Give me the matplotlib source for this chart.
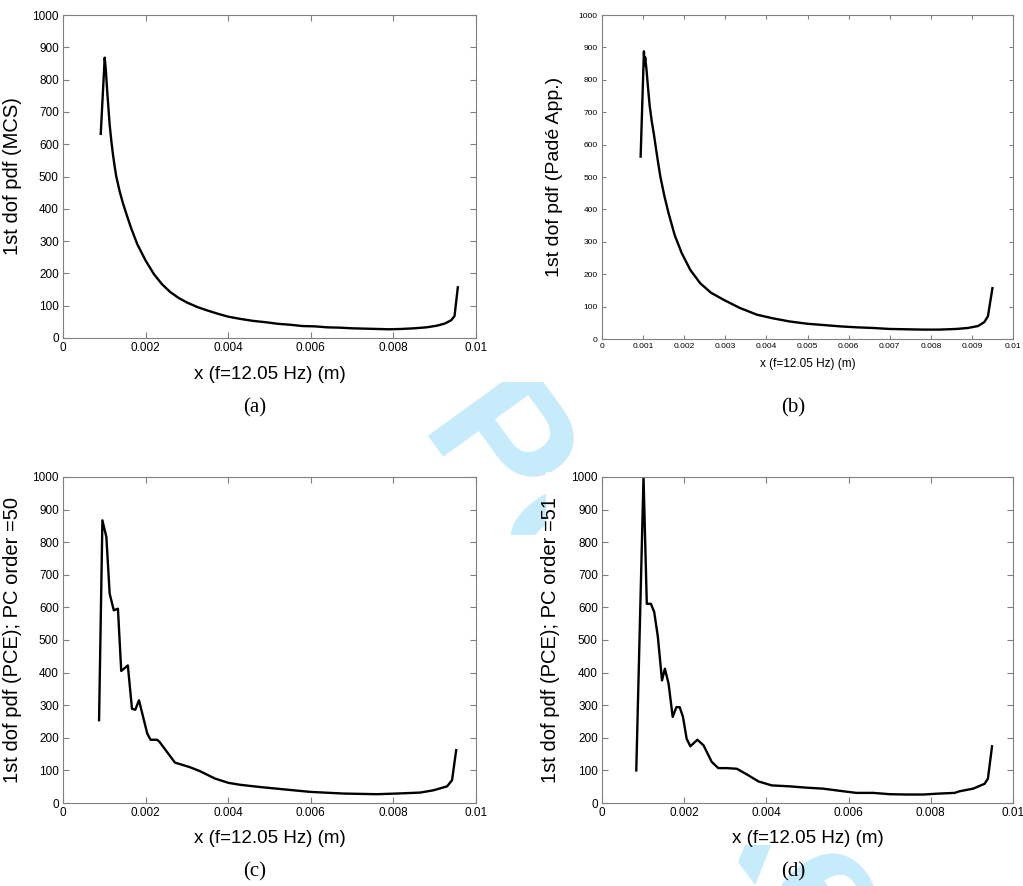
import matplotlib
matplotlib.use("Agg")
import matplotlib.pyplot as plt
from matplotlib.patches import Rectangle

# ---- data: first-dof pdf at f = 12.05 Hz ----
# (a) Monte Carlo simulation
x_mcs = [0.000914, 0.00101, 0.00104, 0.00107, 0.00110, 0.00113, 0.00117, 0.00121,
         0.00125, 0.00129, 0.00137, 0.00145, 0.00154, 0.00165, 0.00180, 0.00200,
         0.00220, 0.00240, 0.00260, 0.00280, 0.00300, 0.00325, 0.00350, 0.00375,
         0.00400, 0.00430, 0.00460, 0.00490, 0.00520, 0.00550, 0.00580, 0.00610,
         0.00640, 0.00670, 0.00700, 0.00730, 0.00760, 0.00790, 0.00820, 0.00850,
         0.00880, 0.00905, 0.00925, 0.00940, 0.00948, 0.00956]
y_mcs = [632, 868, 825, 765, 712, 660, 610, 568, 532, 500, 455, 418, 382, 340,
         290, 240, 198, 166, 142, 124, 110, 96, 85, 75, 66, 59, 53, 49, 44, 41,
         37, 36, 33, 32, 30, 29, 28, 27, 28, 30, 33, 38, 45, 55, 68, 157]

# (b) Pade approximation
x_pade = [0.00094, 0.00102, 0.001035, 0.00105, 0.00108, 0.00112, 0.00116, 0.00121,
          0.00126, 0.00134, 0.00142, 0.00152, 0.00162, 0.00177, 0.00194, 0.00215,
          0.00239, 0.00265, 0.00296, 0.00335, 0.00377, 0.00415, 0.00457, 0.00500,
          0.00540, 0.00579, 0.00620, 0.00660, 0.00700, 0.00740, 0.00781, 0.00820,
          0.00862, 0.00890, 0.00915, 0.00930, 0.00939, 0.00950]
y_pade = [563, 888, 845, 870, 835, 775, 720, 672, 634, 565, 501, 440, 388, 320,
          265, 213, 172, 143, 121, 96, 75, 64, 54, 47, 43, 39, 36, 34, 31, 30, 29,
          29, 31, 34, 40, 52, 70, 157]

# (c) polynomial chaos expansion, order 50
x_pce50 = [0.000873, 0.000954, 0.00105, 0.00113, 0.00123, 0.00133, 0.00141, 0.00157,
           0.00167, 0.00175, 0.00184, 0.00204, 0.00212, 0.00228, 0.00234, 0.00271,
           0.00307, 0.00331, 0.00368, 0.00400, 0.00428, 0.00477, 0.00558, 0.00600,
           0.00679, 0.00760, 0.00808, 0.00865, 0.00897, 0.00930, 0.00942, 0.00952]
y_pce50 = [254, 867, 816, 642, 591, 596, 405, 422, 289, 286, 315, 213, 194, 194,
           187, 124, 110, 98, 75, 62, 56, 49, 39, 34, 29, 27, 29, 32, 39, 51, 70, 162]

# (d) polynomial chaos expansion, order 51
x_pce51 = [0.000834, 0.00101, 0.00109, 0.00119, 0.00127, 0.00136, 0.00146, 0.00153,
           0.00162, 0.00172, 0.00181, 0.00189, 0.00197, 0.00206, 0.00215, 0.00232,
           0.00247, 0.00267, 0.00283, 0.00304, 0.00328, 0.00352, 0.00381, 0.00413,
           0.00457, 0.00498, 0.00538, 0.00587, 0.00619, 0.00660, 0.00700, 0.00741,
           0.00781, 0.00822, 0.00858, 0.00870, 0.00903, 0.00931, 0.00939, 0.00949]
y_pce51 = [100, 1000, 611, 611, 586, 509, 376, 412, 366, 264, 294, 294, 264, 197,
           174, 194, 177, 126, 107, 107, 105, 88, 66, 54, 51, 47, 44, 36, 31, 31,
           27, 26, 26, 29, 31, 36, 44, 59, 75, 174]

x_label = "x (f=12.05 Hz) (m)"
ticks_coarse = [0, 0.002, 0.004, 0.006, 0.008, 0.01]
labels_coarse = ["0", "0.002", "0.004", "0.006", "0.008", "0.01"]
ticks_fine = [i * 0.001 for i in range(11)]
labels_fine = ["0"] + ["0.00%d" % i for i in range(1, 10)] + ["0.01"]
y_ticks = list(range(0, 1001, 100))
y_labels = [str(v) for v in y_ticks]

W, H = 1023, 886
fig = plt.figure(figsize=(W / 100, H / 100), dpi=100)
plt.rcParams["font.family"] = ["Liberation Sans", "DejaVu Sans"]

# light diagonal watermark, sitting underneath the sub-figures
fig.text(670 / W, 1 - 690 / H, "For Peer Review", rotation=-54, color="#c6ebfa",
         fontsize=130, fontweight="bold", ha="center", va="center",
         rotation_mode="anchor", zorder=-5)

# opaque white backgrounds of the four sub-figures
for (l, t, r, b) in [(0, 0, W, 382), (0, 472, 500, 845), (546, 472, W, 845),
                     (500, 535, 546, 845)]:
    fig.patches.append(Rectangle((l / W, 1 - b / H), (r - l) / W, (b - t) / H,
                                 transform=fig.transFigure, facecolor="white",
                                 edgecolor="none", zorder=-4))


def panel(rect, x, y, ylabel, xticks, xticklabels, tick_fs, xlab_fs, ylab_fs,
          ylab_x, xlab_y, tick_len):
    l, t, r, b = rect
    ax = fig.add_axes([l / W, 1 - b / H, (r - l) / W, (b - t) / H])
    ax.set_facecolor("white")
    ax.plot(x, y, color="black", linewidth=1.7)
    ax.set_xlim(0, 0.01)
    ax.set_ylim(0, 1000)
    ax.set_xticks(xticks)
    ax.set_xticklabels(xticklabels)
    ax.set_yticks(y_ticks)
    ax.set_yticklabels(y_labels)
    ax.tick_params(direction="in", length=tick_len, width=0.8, color="#808080",
                   top=True, right=True, labelsize=tick_fs, pad=3)
    for s in ax.spines.values():
        s.set_color("#808080")
        s.set_linewidth(0.8)
    ax.set_xlabel(x_label, fontsize=xlab_fs)
    ax.set_ylabel(ylabel, fontsize=ylab_fs)
    ax.yaxis.set_label_coords(ylab_x, 0.5)
    ax.xaxis.set_label_coords(0.5, xlab_y)
    return ax


panel((63, 15, 476, 338), x_mcs, y_mcs, "1st dof pdf (MCS)",
      ticks_coarse, labels_coarse, 8.5, 13.5, 14.5, -0.099, -0.087, 4)
panel((602, 15, 1013, 339), x_pade, y_pade, "1st dof pdf (Padé App.)",
      ticks_fine, labels_fine, 6, 8.5, 14, -0.095, -0.059, 3)
panel((63, 477, 476, 803), x_pce50, y_pce50, "1st dof pdf (PCE); PC order =50",
      ticks_coarse, labels_coarse, 8.5, 13.5, 14.5, -0.099, -0.083, 4)
panel((602, 477, 1013, 803), x_pce51, y_pce51, "1st dof pdf (PCE); PC order =51",
      ticks_coarse, labels_coarse, 8.5, 13.5, 14.5, -0.102, -0.083, 4)

for label, cx, cy in [("(a)", 255, 408), ("(b)", 793, 408),
                      ("(c)", 255, 872), ("(d)", 793, 872)]:
    fig.text(cx / W, 1 - cy / H, label, family="Liberation Serif", fontsize=15,
             ha="center", va="center")

fig.savefig("out.png", dpi=100, facecolor="white")
